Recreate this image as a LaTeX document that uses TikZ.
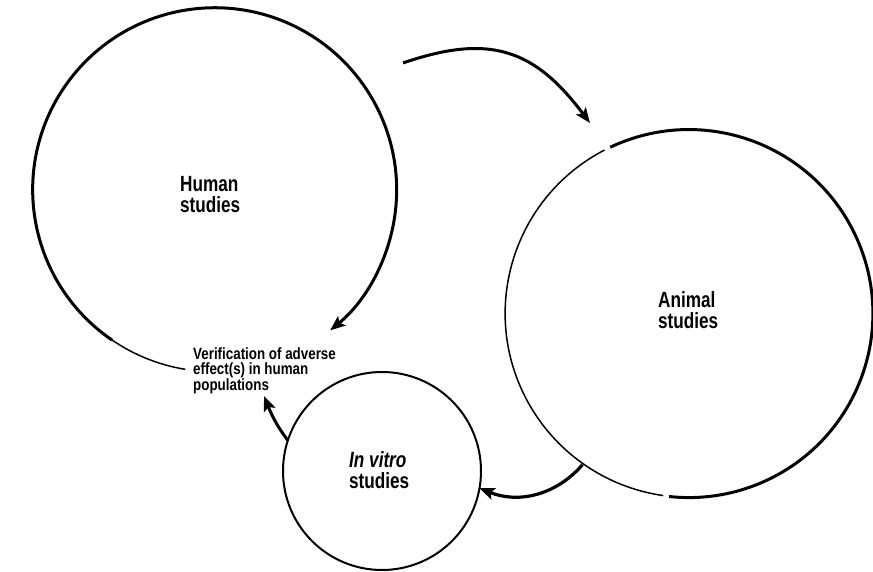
\documentclass[tikz,border=0pt]{standalone}
\usepackage{fontspec}
\setmainfont{Liberation Sans}
\newfontfamily\bigfont[FakeStretch=0.78]{Liberation Sans}
\newfontfamily\smallfont[FakeStretch=0.82]{Liberation Sans}
\usetikzlibrary{arrows.meta}
\begin{document}
\begin{tikzpicture}[x=1pt,y=1pt,
  ring/.style={circle, inner sep=0pt, outer sep=0pt, minimum size=#1},
  thickline/.style={line width=3pt},
  thinline/.style={line width=1.5pt},
  tip/.style={-{Stealth[length=15pt,width=12pt,inset=3pt]}},
  arr/.style={line width=3.2pt, tip},
  bigtext/.style={font=\bigfont\bfseries\fontsize{22}{21}\selectfont, align=left, anchor=base west, inner sep=0pt},
  smalltext/.style={font=\smallfont\bfseries\fontsize{16.3}{15.5}\selectfont, align=left, anchor=base west, inner sep=0pt}
]
\fill[white] (0,0) rectangle (873,571);
\useasboundingbox (0,0) rectangle (873,571);

% circles (invisible nodes for anchors)
\node[ring=364pt] (human) at (216.5,380) {};
\node[ring=368pt] (animal) at (688,257) {};
\node[ring=198pt, draw, line width=2pt] (vitro) at (382,100) {};

% human studies circle
\draw[thickline, tip] (human.235.7) arc[start angle=235.7, end angle=-50.6, radius=182pt];
\draw[thinline] (human.235.7) arc[start angle=235.7, end angle=260.7, radius=182pt];

% animal studies circle
\draw[thickline] (animal.115.3) arc[start angle=115.3, end angle=-96.2, radius=184pt];
\draw[thinline] (animal.117.4) arc[start angle=117.4, end angle=261.9, radius=184pt];

% labels (anchor = baseline of last line)
\node[bigtext] (humanlbl) at (180,358.5) {Human\\studies};
\node[bigtext] (animallbl) at (658,242) {Animal\\studies};
\node[bigtext] (vitrolbl) at (349,83) {\itshape In vitro\\studies};
\node[smalltext] (verif) at (193,181) {Verification of adverse\\effect(s) in human\\populations};

% connectors
\coordinate (ts) at (403,508);
\coordinate (te) at (590,448);
\draw[arr, line width=3pt] (ts) to[out=19, in=127, looseness=1.2] (te);
\draw[arr] (animal.235) to[out=229, in=-22] (vitro.-10);
\coordinate (vtip) at (264,175);
\draw[arr, line width=3pt] (vitro.162) to[out=127, in=-68] (vtip);
\end{tikzpicture}
\end{document}
